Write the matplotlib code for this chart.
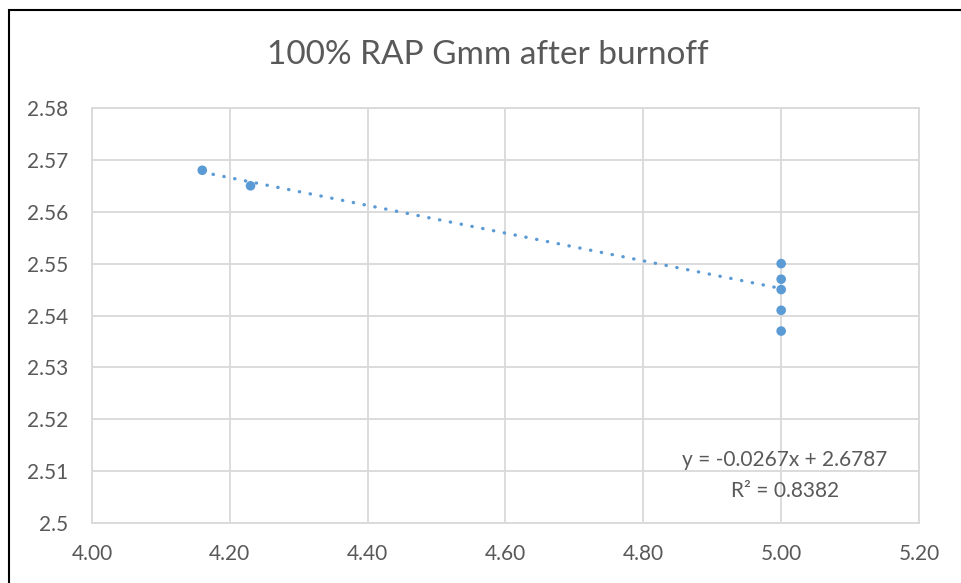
import matplotlib
matplotlib.use("Agg")
import matplotlib.pyplot as plt
import numpy as np
from matplotlib.patches import Rectangle

# Binder content (%) vs. Gmm
binder_pct = [4.16, 4.23, 5.00, 5.00, 5.00, 5.00, 5.00]
gmm = [2.568, 2.565, 2.550, 2.547, 2.545, 2.541, 2.537]

# Linear trendline coefficients
slope = -0.0267
intercept = 2.6787
r_squared = 0.8382

title = "100% RAP Gmm after burnoff"
x_ticks = [4.00, 4.20, 4.40, 4.60, 4.80, 5.00, 5.20]
y_ticks = [2.50, 2.51, 2.52, 2.53, 2.54, 2.55, 2.56, 2.57, 2.58]

plt.rcParams['font.family'] = ['Lato', 'DejaVu Sans']

W, H = 961, 583
fig = plt.figure(figsize=(W / 100, H / 100), dpi=100)
fig.patch.set_facecolor("white")

# Chart border (top and left edges visible)
fig.add_artist(Rectangle((9 / W, -0.1), 1.2, 1 - 10 / H + 0.1, transform=fig.transFigure,
                         fill=False, edgecolor="black", linewidth=1.5))

ax = fig.add_axes([92 / W, 1 - 523 / H, (919 - 92) / W, (523 - 108) / H])
grey = "#595959"
blue = "#5b9bd5"

ax.set_xlim(4.0, 5.2)
ax.set_ylim(2.50, 2.58)
ax.set_xticks(x_ticks)
ax.set_xticklabels([f"{v:.2f}" for v in x_ticks])
ax.set_yticks(y_ticks)
ax.set_yticklabels([f"{v:g}" for v in y_ticks])
ax.grid(True, color="#d9d9d9", linewidth=1.3)
ax.set_axisbelow(True)
for s in ax.spines.values():
    s.set_color("#d9d9d9")
    s.set_linewidth(1.3)
ax.tick_params(length=0, labelsize=15, colors=grey)
ax.tick_params(axis="y", pad=17)
ax.tick_params(axis="x", pad=15)

# Trendline
tx = np.array([min(binder_pct), max(binder_pct)])
ax.plot(tx, slope * tx + intercept, color=blue, linewidth=2.4,
        linestyle=(0, (0.1, 3.2)), dash_capstyle="round", zorder=3)

ax.scatter(binder_pct, gmm, s=48, color=blue, zorder=4, edgecolors="none")

ax.text(785, H - 460, f"y = {slope:.4f}x + {intercept:.4f}", transform=None, fontsize=15,
        color=grey, ha="center", va="center")
ax.text(785, H - 491, f"R² = {r_squared:.4f}", fontsize=15, color=grey,
        ha="center", va="center", transform=None)

fig.text(488 / W, 1 - 55 / H, title, fontsize=24, color=grey, ha="center", va="center")

fig.savefig("out.png", dpi=100)
